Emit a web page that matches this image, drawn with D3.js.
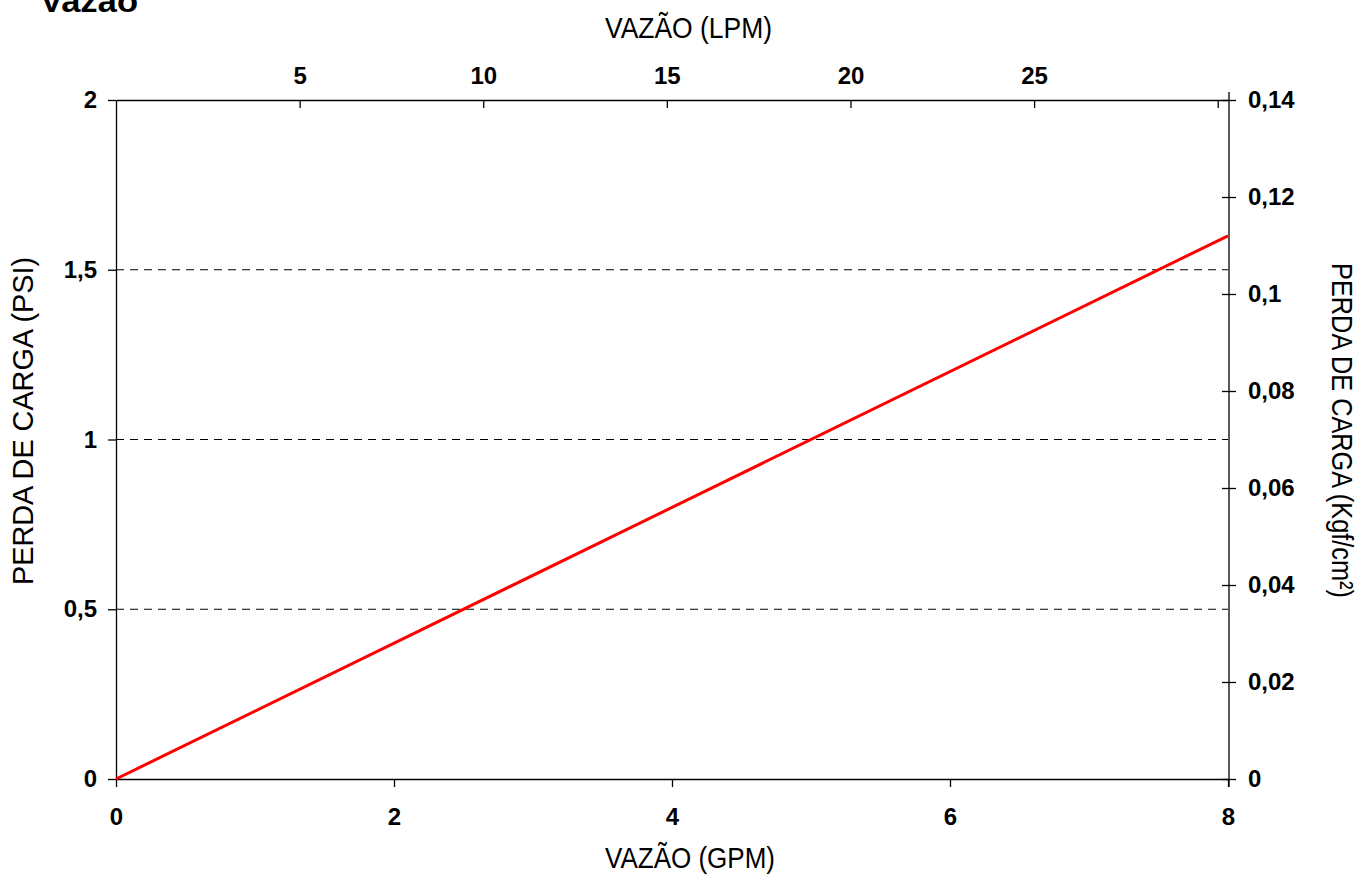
<!DOCTYPE html>
<html>
<head>
<meta charset="utf-8">
<script src="https://d3js.org/d3.v7.min.js"></script>
<style>
  body { margin: 0; background: #fff; }
  text { font-family: "Liberation Sans", Arial, sans-serif; }
</style>
</head>
<body>
<script>
// data
var gpm = [0, 8];
var psi = [0, 1.6];
var gpmTicks = [0, 2, 4, 6, 8];
var psiTicks = [0, 0.5, 1, 1.5, 2];
var gridTicks = [0.5, 1, 1.5];
var kgfTicks = [0, 0.02, 0.04, 0.06, 0.08, 0.1, 0.12, 0.14];
var lpmTicks = [5, 10, 15, 20, 25, 30];
var lpmLabels = ['5', '10', '15', '20', '25', ''];

var W = 1372, H = 875;
var L = 116, R = 1228, T = 100, B = 779;

var svg = d3.select('body').append('svg')
  .attr('width', W).attr('height', H);

var x = d3.scaleLinear().domain([0, 8]).range([L, R]);
var y = d3.scaleLinear().domain([0, 2]).range([B, T]);
var yR = d3.scaleLinear().domain([0, 0.14]).range([B, T]);
var xL = d3.scaleLinear().domain([0, 8 * 3.785]).range([L, R]);

var fmt = function (d) { return String(d).replace('.', ','); };

// dashed grid
svg.append('g').selectAll('line')
  .data(gridTicks).enter().append('line')
  .attr('x1', L).attr('x2', R)
  .attr('y1', function (d) { return y(d); })
  .attr('y2', function (d) { return y(d); })
  .attr('stroke', '#000').attr('stroke-width', 1)
  .attr('stroke-dasharray', '8,6');

// left axis
var gl = svg.append('g').attr('transform', 'translate(' + L + ',0)')
  .call(d3.axisLeft(y).tickValues(psiTicks).tickFormat(fmt).tickSize(8).tickSizeOuter(0));
// bottom axis
var gb = svg.append('g').attr('transform', 'translate(0,' + B + ')')
  .call(d3.axisBottom(x).tickValues(gpmTicks).tickSize(8).tickSizeOuter(0));
// top axis (LPM), ticks inward
var gt = svg.append('g').attr('transform', 'translate(0,' + T + ')')
  .call(d3.axisTop(xL).tickValues(lpmTicks).tickSize(-8).tickSizeOuter(0)
    .tickFormat(function (d, i) { return lpmLabels[i]; }));
// right axis (kgf/cm2), crossing ticks
var gr = svg.append('g').attr('transform', 'translate(' + (R + 1) + ',0)')
  .call(d3.axisRight(yR).tickValues(kgfTicks).tickFormat(fmt).tickSize(7).tickSizeOuter(0));
gr.selectAll('.tick line').attr('x1', -7);
gr.select('.domain').attr('d', 'M0,' + (T - 8) + 'V' + (B + 8));

[gl, gb, gt, gr].forEach(function (g) {
  g.attr('font-size', null).attr('font-family', null);
  g.selectAll('path, line').attr('stroke', '#000').attr('stroke-width', 1.3);
  g.selectAll('text').attr('fill', '#000')
    .style('font-size', '24px').style('font-weight', 'bold');
});
gl.selectAll('text').attr('x', -19);
gb.selectAll('text').attr('y', 29);
gt.selectAll('text').attr('y', -16);
gr.selectAll('text').attr('x', 19);

// red line
svg.append('path')
  .datum(d3.range(gpm.length))
  .attr('fill', 'none').attr('stroke', '#f00').attr('stroke-width', 3)
  .attr('d', d3.line()
    .x(function (i) { return x(gpm[i]); })
    .y(function (i) { return y(psi[i]); }));

// titles
svg.append('text').attr('x', 40).attr('y', 12)
  .attr('textLength', 98).attr('lengthAdjust', 'spacingAndGlyphs')
  .style('font-size', '32px').style('font-weight', 'bold').text('Vazão');
svg.append('text').attr('x', 605).attr('y', 38)
  .attr('textLength', 167).attr('lengthAdjust', 'spacingAndGlyphs')
  .style('font-size', '30px').text('VAZÃO (LPM)');
svg.append('text').attr('x', 605).attr('y', 868)
  .attr('textLength', 170).attr('lengthAdjust', 'spacingAndGlyphs')
  .style('font-size', '29px').text('VAZÃO (GPM)');
svg.append('text')
  .attr('transform', 'translate(33,585) rotate(-90)')
  .attr('textLength', 328).attr('lengthAdjust', 'spacingAndGlyphs')
  .style('font-size', '30px').text('PERDA DE CARGA (PSI)');
svg.append('text')
  .attr('transform', 'translate(1332,263) rotate(90)')
  .attr('textLength', 335).attr('lengthAdjust', 'spacingAndGlyphs')
  .style('font-size', '30px').text('PERDA DE CARGA (Kgf/cm²)');
</script>
</body>
</html>
